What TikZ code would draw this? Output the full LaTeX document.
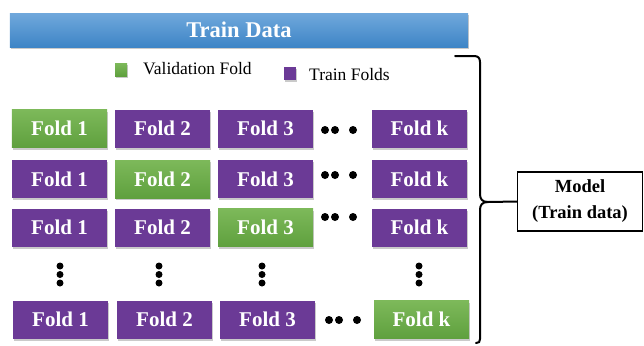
\documentclass[tikz,border=0pt]{standalone}
\usepackage{fontspec}
\setmainfont{Liberation Serif}
\usetikzlibrary{shadows}

\definecolor{trainpurple}{HTML}{6B3A96}
\definecolor{valgreenA}{HTML}{7DB95A}
\definecolor{valgreenB}{HTML}{5FA03E}
\definecolor{barblueA}{HTML}{70A8DC}
\definecolor{barblueB}{HTML}{3E85C6}

\tikzset{
  softshadow/.style={drop shadow={shadow xshift=1.2bp, shadow yshift=-2bp, opacity=0.35, fill=black!60}},
  fold/.style={minimum width=95bp, minimum height=38bp, inner sep=0pt, text=white,
    font=\fontsize{21bp}{24bp}\selectfont\bfseries, softshadow},
  trainfold/.style={fold, fill=trainpurple},
  valfold/.style={fold, top color=valgreenA, bottom color=valgreenB},
  legendtext/.style={anchor=base west, inner sep=0pt, font=\fontsize{17.5bp}{20bp}\selectfont},
  brace/.style={line width=2bp, line cap=round, line join=round}
}

\begin{document}
\begin{tikzpicture}[x=1bp, y=-1bp]

\useasboundingbox (0,0) rectangle (644,345);

% 顶部 Train Data 条
\node[minimum width=458bp, minimum height=34bp, inner sep=0pt, top color=barblueA, bottom color=barblueB,
  text=white, font=\fontsize{22.5bp}{26bp}\selectfont\bfseries, softshadow] (bar) at (239,30) {Train Data};

% 图例
\node[minimum width=12bp, minimum height=13bp, inner sep=0pt, top color=valgreenA, bottom color=valgreenB, softshadow] (legval) at (121,69.5) {};
\node[legendtext] (legvaltext) at (143,74) {Validation Fold};
\node[minimum width=12bp, minimum height=13bp, inner sep=0pt, fill=trainpurple, softshadow] (legtrain) at (290,73.5) {};
\node[legendtext] (legtraintext) at (309,80) {Train Folds};

% 第 1 行：Fold 1 为验证折
\node[valfold]   (r1c1) at (59.5,128.5)  {Fold 1};
\node[trainfold] (r1c2) at (162.5,128.5) {Fold 2};
\node[trainfold] (r1c3) at (265.5,128.5) {Fold 3};
\node[trainfold] (r1ck) at (419.5,128.5) {Fold k};

% 第 2 行：Fold 2 为验证折
\node[trainfold] (r2c1) at (59.5,179)  {Fold 1};
\node[valfold]   (r2c2) at (162.5,179) {Fold 2};
\node[trainfold] (r2c3) at (265.5,179) {Fold 3};
\node[trainfold] (r2ck) at (419.5,179) {Fold k};

% 第 3 行：Fold 3 为验证折
\node[trainfold] (r3c1) at (59.5,227.5)  {Fold 1};
\node[trainfold] (r3c2) at (162.5,227.5) {Fold 2};
\node[valfold]   (r3c3) at (265.5,227.5) {Fold 3};
\node[trainfold] (r3ck) at (419.5,227.5) {Fold k};

% 最后一行：Fold k 为验证折
\node[trainfold] (rkc1) at (60.5,319.5)  {Fold 1};
\node[trainfold] (rkc2) at (164.5,319.5) {Fold 2};
\node[trainfold] (rkc3) at (267.5,319.5) {Fold 3};
\node[valfold]   (rkck) at (421.5,319.5) {Fold k};

% 横向省略号
\foreach \x/\y in {325/130, 325/175, 325/217, 329/320} {
  \fill (\x,\y) circle (4bp);
  \fill (\x+10,\y) circle (4bp);
  \fill (\x+28,\y) circle (4bp);
}

% 纵向省略号
\foreach \x in {60, 159, 262, 419} {
  \fill (\x,266) circle (3.5bp);
  \fill (\x,274.5) circle (3.5bp);
  \fill (\x,283) circle (3.5bp);
}

% 右侧大括号
\coordinate (tip) at (488,202);
\draw[brace] (455,56) -- (474,56) .. controls (478,56) and (480,58) .. (480,62)
  -- (480,194) .. controls (480,199) and (482,202) .. (tip)
  .. controls (482,202) and (480,205) .. (480,210)
  -- (480,339) .. controls (480,342) and (479,343) .. (476,343);

% 模型框
\node[draw, line width=1.5bp, minimum width=125bp, minimum height=59bp, inner sep=0pt, align=center,
  font=\fontsize{18.5bp}{26bp}\selectfont\bfseries] (model) at (580,201.5) {Model\\(Train data)};
\draw[brace] (tip) -- (model.west);

\end{tikzpicture}
\end{document}
